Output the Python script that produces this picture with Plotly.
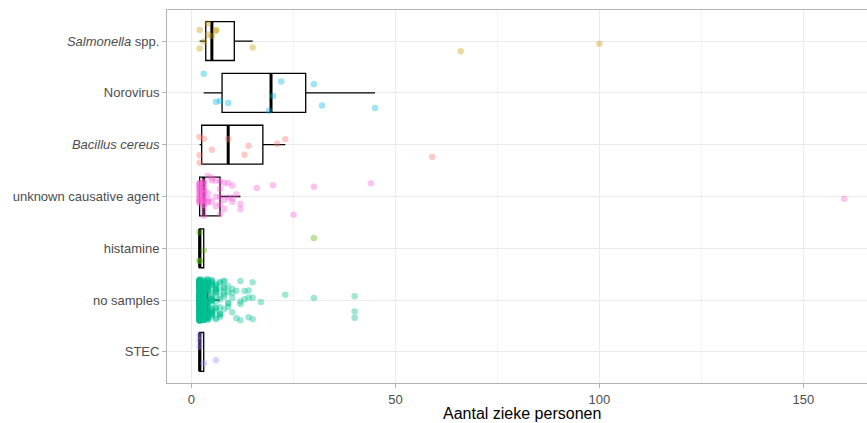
import numpy as np
import plotly.graph_objects as go

# Categories, bottom to top
categories = ["STEC", "no samples", "histamine", "unknown causative agent",
              "<i>Bacillus cereus</i>", "Norovirus", "<i>Salmonella</i> spp."]
colors = ["#A58AFF", "#00C094", "#53B400", "#FB61D7", "#F8766D", "#00B6EB", "#C49A00"]

# Number of sick persons per outbreak
stec = [2, 2, 2, 3, 6]
histamine = [2, 2, 2, 3, 30]
salmonella = [2, 2, 3, 4, 4, 5, 6, 6, 15, 66, 100]
norovirus = [3, 6, 7, 9, 19, 20, 22, 30, 32, 45]
bacillus = [2, 2, 2, 3, 5, 9, 13, 14, 21, 23, 59]

unknown_values = [2, 3, 4, 5, 6, 7, 8, 9, 10, 11, 12, 16, 20, 25, 30, 44, 160]
unknown_counts = [18, 18, 5, 3, 3, 5, 3, 2, 3, 1, 2, 1, 1, 1, 1, 1, 1]

nosamples_values = [2, 3, 4, 5, 6, 7, 8, 9, 10, 11, 12, 13, 14, 15, 17, 23, 30, 40]
nosamples_counts = [180, 130, 40, 25, 15, 10, 8, 5, 4, 2, 4, 2, 3, 3, 1, 1, 1, 3]

unknown = np.repeat(unknown_values, unknown_counts)
nosamples = np.repeat(nosamples_values, nosamples_counts)

series = [stec, nosamples, histamine, unknown, bacillus, norovirus, salmonella]

rng = np.random.default_rng(7)
fig = go.Figure()

stats = []
for i, data in enumerate(series):
    pos = i + 1
    d = np.asarray(data, dtype=float)
    q1, med, q3 = np.percentile(d, [25, 50, 75])
    iqr = q3 - q1
    lo = d[d >= q1 - 1.5 * iqr].min()
    hi = d[d <= q3 + 1.5 * iqr].max()
    stats.append((pos, med))
    fig.add_trace(go.Box(
        y=[pos], q1=[q1], median=[med], q3=[q3], lowerfence=[lo], upperfence=[hi],
        orientation="h", width=0.75, fillcolor="white",
        line=dict(color="black", width=1.3), whiskerwidth=0,
        boxpoints=False, showlegend=False, hoverinfo="skip"))

for pos, med in stats:
    fig.add_trace(go.Scatter(
        x=[med, med], y=[pos - 0.375, pos + 0.375], mode="lines",
        line=dict(color="black", width=3), showlegend=False, hoverinfo="skip"))

for i, data in enumerate(series):
    pos = i + 1
    d = np.asarray(data, dtype=float)
    jit = rng.uniform(-0.4, 0.4, size=len(d))
    fig.add_trace(go.Scatter(
        x=d, y=pos + jit, mode="markers",
        marker=dict(color=colors[i], size=6.5, opacity=0.38, line=dict(width=0)),
        showlegend=False, hoverinfo="skip"))

font_family = "Liberation Sans, Arial, sans-serif"

fig.update_layout(
    width=867, height=423,
    margin=dict(l=167, r=0, t=10, b=40),
    paper_bgcolor="white", plot_bgcolor="white",
    font=dict(family=font_family),
    xaxis=dict(
        range=[-6.0, 165.6], tickvals=[0, 50, 100, 150],
        showgrid=True, gridcolor="#EBEBEB", gridwidth=1,
        minor=dict(dtick=25, showgrid=True, gridcolor="#F4F4F4", gridwidth=1),
        zeroline=False, showline=True, mirror=True, linecolor="#B3B3B3", linewidth=1,
        ticks="outside", ticklen=4, tickcolor="#B3B3B3",
        tickfont=dict(size=13, color="#4D4D4D", family=font_family),
    ),
    yaxis=dict(
        range=[0.4, 7.6], tickvals=list(range(1, 8)), ticktext=categories,
        showgrid=True, gridcolor="#EBEBEB", gridwidth=1,
        zeroline=False, showline=True, mirror=False, linecolor="#B3B3B3", linewidth=1,
        ticks="outside", ticklen=4, tickcolor="#B3B3B3",
        tickfont=dict(size=13, color="#4D4D4D", family=font_family),
    ),
    annotations=[dict(
        text="Aantal zieke personen", xref="paper", yref="paper",
        x=0.507, y=-0.0831, xanchor="center", yanchor="middle", showarrow=False,
        font=dict(size=16, color="black", family=font_family))],
)

fig.write_html("out.html")
